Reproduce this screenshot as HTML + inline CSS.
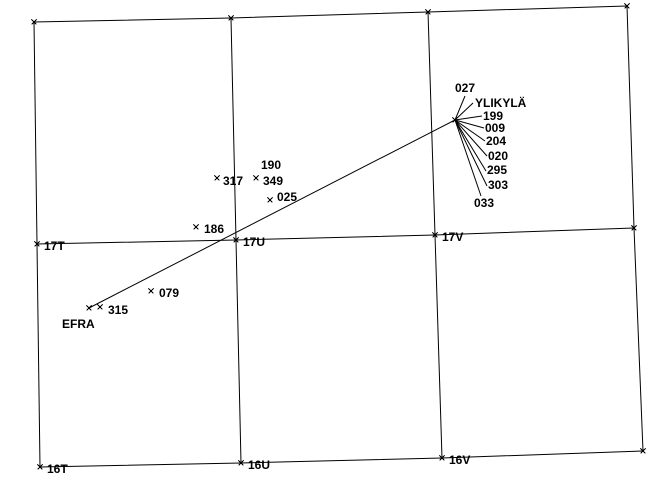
<!DOCTYPE html>
<html><head><style>
html,body{margin:0;padding:0;background:#fff;}
svg text{font-family:"Liberation Sans",sans-serif;font-weight:bold;font-size:12px;fill:#000;}
</style></head><body>
<svg width="658" height="499" viewBox="0 0 658 499" xmlns="http://www.w3.org/2000/svg">
<g stroke="#000" stroke-width="1" fill="none">
<polyline points="34,22 231,18 428,12 627,6"/>
<polyline points="37,244 236,240 435,235 634,228"/>
<polyline points="40,467 241,463 442,458 643,451"/>
<polyline points="34,22 37,244 40,467"/>
<polyline points="231,18 236,240 241,463"/>
<polyline points="428,12 435,235 442,458"/>
<polyline points="627,6 634,228 643,451"/>
<line x1="89" y1="308" x2="455" y2="120"/>
<line x1="455" y1="120" x2="465" y2="96"/>
<line x1="455" y1="120" x2="473" y2="103"/>
<line x1="455" y1="120" x2="482" y2="116"/>
<line x1="455" y1="120" x2="484" y2="128"/>
<line x1="455" y1="120" x2="485" y2="141"/>
<line x1="455" y1="120" x2="487" y2="156"/>
<line x1="455" y1="120" x2="486" y2="171"/>
<line x1="455" y1="120" x2="487" y2="186"/>
<line x1="455" y1="120" x2="481" y2="196"/>
</g>
<g stroke="#000" stroke-width="1" shape-rendering="crispEdges">
<path d="M31.5,19.5l5,5M36.5,19.5l-5,5 M228.5,15.5l5,5M233.5,15.5l-5,5 M425.5,9.5l5,5M430.5,9.5l-5,5 M624.5,3.5l5,5M629.5,3.5l-5,5
M34.5,241.5l5,5M39.5,241.5l-5,5 M233.5,237.5l5,5M238.5,237.5l-5,5 M432.5,232.5l5,5M437.5,232.5l-5,5 M631.5,225.5l5,5M636.5,225.5l-5,5
M37.5,464.5l5,5M42.5,464.5l-5,5 M238.5,460.5l5,5M243.5,460.5l-5,5 M439.5,455.5l5,5M444.5,455.5l-5,5 M640.5,448.5l5,5M645.5,448.5l-5,5
M214.5,175.5l5,5M219.5,175.5l-5,5 M253.5,175.5l5,5M258.5,175.5l-5,5 M267.5,197.5l5,5M272.5,197.5l-5,5 M193.5,224.5l5,5M198.5,224.5l-5,5
M148.5,288.5l5,5M153.5,288.5l-5,5 M86.5,305.5l5,5M91.5,305.5l-5,5 M97.5,304.5l5,5M102.5,304.5l-5,5 M452.5,117.5l5,5M457.5,117.5l-5,5"/>
</g>
<text x="44" y="250">17T</text>
<text x="243" y="246">17U</text>
<text x="442" y="241">17V</text>
<text x="47" y="473">16T</text>
<text x="248" y="469">16U</text>
<text x="449" y="464">16V</text>
<text x="261" y="169">190</text>
<text x="223" y="185">317</text>
<text x="263" y="185">349</text>
<text x="277" y="201">025</text>
<text x="204" y="233">186</text>
<text x="159" y="297">079</text>
<text x="108" y="314">315</text>
<text x="62" y="328">EFRA</text>
<text x="455" y="92">027</text>
<text x="475" y="107">YLIKYLÄ</text>
<text x="483" y="120">199</text>
<text x="485" y="132">009</text>
<text x="486" y="145">204</text>
<text x="488" y="160">020</text>
<text x="487" y="174">295</text>
<text x="488" y="189">303</text>
<text x="474" y="207">033</text>
</svg>
</body></html>
